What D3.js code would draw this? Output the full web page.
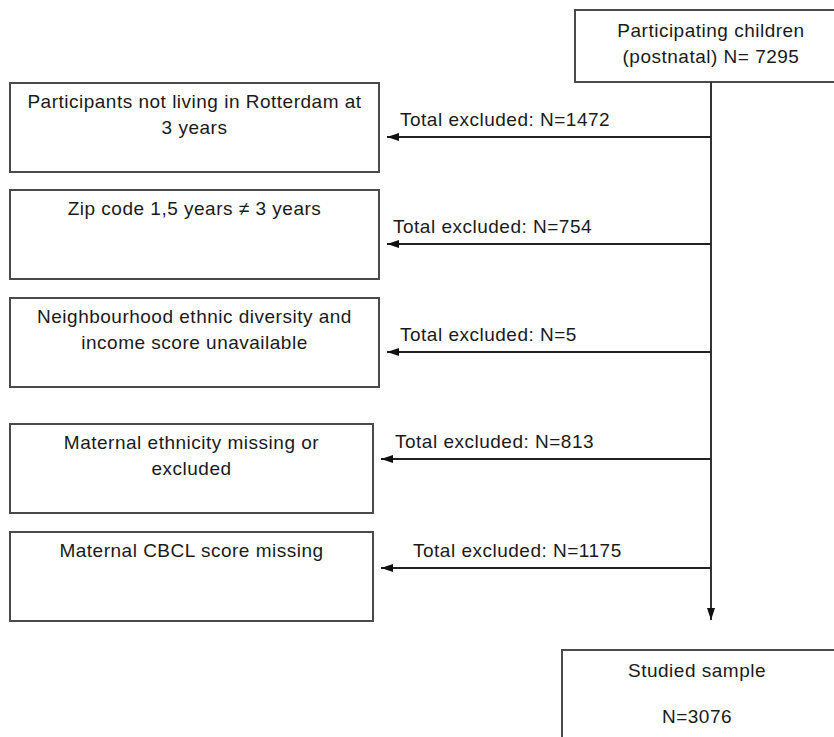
<!DOCTYPE html>
<html>
<head>
<meta charset="utf-8">
<script src="https://cdn.jsdelivr.net/npm/d3@7"></script>
<style>
  html, body { margin: 0; padding: 0; background: #fff; }
  svg { display: block; }
  text { font-family: "Liberation Sans", Arial, sans-serif; font-size: 19px; fill: #1a1a1a; letter-spacing: 0.5px; }
</style>
</head>
<body>
<svg id="chart" width="834" height="737"></svg>
<script>
// ---- data ----
const startLabel = ["Participating children", "(postnatal) N= 7295"];
const exclusionReasons = [
  ["Participants not living in Rotterdam at", "3 years"],
  ["Zip code 1,5 years \u2260 3 years"],
  ["Neighbourhood ethnic diversity and", "income score unavailable"],
  ["Maternal ethnicity missing or", "excluded"],
  ["Maternal CBCL score missing"]
];
const excludedCounts = [1472, 754, 5, 813, 1175];
const finalLabel = ["Studied sample", "N=3076"];

// ---- layout ----
const svg = d3.select("#chart");
const spineX = 711;
const boxTops = [83, 190, 298, 424, 532];
const boxRights = [379, 379, 379, 373, 373];
const labelX = [400, 393, 400, 395, 413];
const boxLeft = 10, boxH = 89;
const arrowOffset = [54, 54, 54, 35, 36];
const lineH = 26;

const defs = svg.append("defs");
defs.append("marker")
  .attr("id", "arrow")
  .attr("viewBox", "0 0 12 10")
  .attr("refX", 12).attr("refY", 5)
  .attr("markerWidth", 12).attr("markerHeight", 10)
  .attr("markerUnits", "userSpaceOnUse")
  .attr("orient", "auto")
  .append("path").attr("d", "M0,1 L12,5 L0,9 Z").attr("fill", "#111");

const boxStroke = "#4a4a4a";

// top box
svg.append("rect").attr("x", 575).attr("y", 10).attr("width", 290).attr("height", 72)
  .attr("fill", "#fff").attr("stroke", boxStroke).attr("stroke-width", 2);
svg.append("g").selectAll("text").data(startLabel).join("text")
  .attr("x", 711).attr("y", (d, i) => 37 + i * lineH)
  .attr("text-anchor", "middle").text(d => d);

// spine
svg.append("line").attr("x1", spineX).attr("x2", spineX).attr("y1", 82).attr("y2", 620)
  .attr("stroke", "#333").attr("stroke-width", 2).attr("marker-end", "url(#arrow)");

// exclusion boxes
const g = svg.append("g").selectAll("g").data(exclusionReasons).join("g");
g.append("rect")
  .attr("x", boxLeft).attr("y", (d, i) => boxTops[i])
  .attr("width", (d, i) => boxRights[i] - boxLeft).attr("height", boxH)
  .attr("fill", "#fff").attr("stroke", boxStroke).attr("stroke-width", 2);
g.each(function(lines, i) {
  const cx = (boxLeft + boxRights[i]) / 2;
  d3.select(this).selectAll("text.reason").data(lines).join("text")
    .attr("class", "reason")
    .attr("x", cx).attr("y", (d, j) => boxTops[i] + 25 + j * lineH)
    .attr("text-anchor", "middle").text(d => d);
});
// arrows
g.append("line")
  .attr("x1", spineX).attr("x2", (d, i) => boxRights[i] + 8)
  .attr("y1", (d, i) => boxTops[i] + arrowOffset[i])
  .attr("y2", (d, i) => boxTops[i] + arrowOffset[i])
  .attr("stroke", "#222").attr("stroke-width", 2).attr("marker-end", "url(#arrow)");
g.append("text")
  .attr("x", (d, i) => labelX[i])
  .attr("y", (d, i) => boxTops[i] + arrowOffset[i] - 11)
  .text((d, i) => "Total excluded: N=" + excludedCounts[i]);

// final box
svg.append("rect").attr("x", 562).attr("y", 650).attr("width", 300).attr("height", 120)
  .attr("fill", "#fff").attr("stroke", boxStroke).attr("stroke-width", 2);
svg.append("g").selectAll("text").data(finalLabel).join("text")
  .attr("x", 697).attr("y", (d, i) => 677 + i * 46)
  .attr("text-anchor", "middle").text(d => d);
</script>
</body>
</html>
